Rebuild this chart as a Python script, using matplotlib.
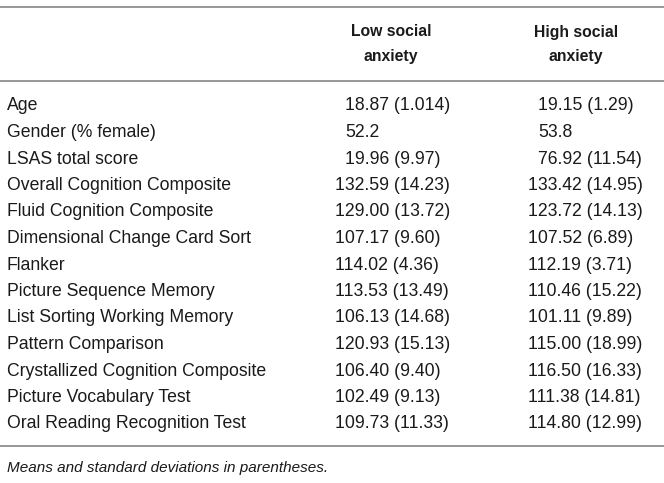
import matplotlib
matplotlib.use("Agg")
import matplotlib.pyplot as plt

# Table contents
measures = [
    "Age",
    "Gender (% female)",
    "LSAS total score",
    "Overall Cognition Composite",
    "Fluid Cognition Composite",
    "Dimensional Change Card Sort",
    "Flanker",
    "Picture Sequence Memory",
    "List Sorting Working Memory",
    "Pattern Comparison",
    "Crystallized Cognition Composite",
    "Picture Vocabulary Test",
    "Oral Reading Recognition Test",
]
low_anxiety = [
    "18.87 (1.014)", "52.2", "19.96 (9.97)", "132.59 (14.23)", "129.00 (13.72)",
    "107.17 (9.60)", "114.02 (4.36)", "113.53 (13.49)", "106.13 (14.68)",
    "120.93 (15.13)", "106.40 (9.40)", "102.49 (9.13)", "109.73 (11.33)",
]
high_anxiety = [
    "19.15 (1.29)", "53.8", "76.92 (11.54)", "133.42 (14.95)", "123.72 (14.13)",
    "107.52 (6.89)", "112.19 (3.71)", "110.46 (15.22)", "101.11 (9.89)",
    "115.00 (18.99)", "116.50 (16.33)", "111.38 (14.81)", "114.80 (12.99)",
]
headers = ["Low social\nanxiety", "High social\nanxiety"]
footnote = "Means and standard deviations in parentheses."

plt.rcParams['font.family'] = ['Liberation Sans', 'DejaVu Sans']

W, H = 664, 483
fig = plt.figure(figsize=(W / 100, H / 100), dpi=100)
ax = fig.add_axes([0, 0, 1, 1])
ax.set_xlim(0, W)
ax.set_ylim(H, 0)
ax.axis('off')

text_color = '#1a1a1a'
rule_color = '#7a7a7a'
fs = 12.7
digit_w = 0.556 * fs * 100 / 72  # width of one digit, pixels

# rules
for y in [6.5, 81, 446]:
    ax.plot([0, W], [y, y], color=rule_color, lw=1.1, solid_capstyle='butt')

# column headers
header_x = [391, 576]
for hx, h in zip(header_x, headers):
    ax.text(hx, 44, h, ha='center', va='center', fontsize=11.3,
            fontweight='bold', color=text_color, linespacing=1.75)

# rows; numbers with a two-digit mean are pushed right by one digit
col_x = [335, 528]
row0, step = 106, 26.5
for i, name in enumerate(measures):
    y = row0 + i * step
    ax.text(7, y, name, ha='left', va='center', fontsize=fs, color=text_color)
    for cx, col in zip(col_x, [low_anxiety, high_anxiety]):
        whole = col[i].split('.', 1)[0]
        x = cx + (3 - len(whole)) * digit_w
        ax.text(x, y, col[i], ha='left', va='center', fontsize=fs, color=text_color)

ax.text(7, 468, footnote, ha='left', va='center', fontsize=11,
        style='italic', color=text_color)

fig.savefig('out.png', dpi=100)
